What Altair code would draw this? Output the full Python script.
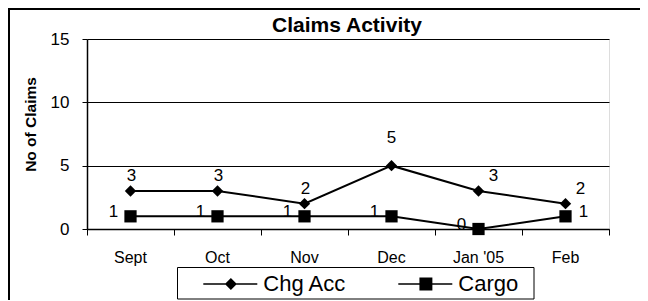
import altair as alt
import pandas as pd

# ---- data ----
months = ["Sept", "Oct", "Nov", "Dec", "Jan '05", "Feb"]
chg_acc = [3, 3, 2, 5, 3, 2]
cargo = [1, 1, 1, 1, 0, 1]
series_names = ["Chg Acc", "Cargo"]
y_ticks = [0, 5, 10, 15]
chart_title = "Claims Activity"

rows = []
for i, m in enumerate(months):
    rows.append({"month": m, "idx": i, "series": "Chg Acc", "value": chg_acc[i]})
    rows.append({"month": m, "idx": i, "series": "Cargo", "value": cargo[i]})
df = pd.DataFrame(rows)
one = pd.DataFrame({"title": [chart_title]})

FONT = "Liberation Sans"
W, H = 522, 190

x_enc = alt.X(
    "month:N",
    sort=months,
    bandPosition=0.5,
    scale=alt.Scale(type="band", domain=months, paddingInner=0, paddingOuter=0),
    axis=alt.Axis(
        title=None, bandPosition=1, tickExtra=True, labelAngle=0,
        labelFont=FONT, labelFontSize=16, labelColor="black",
        labelBaseline="alphabetic", labelPadding=27, tickSize=6,
        tickColor="black", tickWidth=1, domainColor="black", domainWidth=1.5,
        grid=False, labelOverlap=False,
    ),
)
y_enc = alt.Y(
    "value:Q",
    scale=alt.Scale(domain=[0, 15], nice=False, zero=True),
    axis=alt.Axis(
        title="No of Claims", values=y_ticks, titleFont=FONT, titleFontSize=15.5,
        titleFontWeight="bold", titleColor="black", titleAngle=270,
        titleX=-52, titleY=85, titleBaseline="alphabetic", titleAlign="center",
        labelFont=FONT, labelFontSize=17, labelColor="black", labelPadding=13,
        tickSize=5, tickColor="black", domainColor="black", domainWidth=1.5,
        gridColor="black", gridWidth=1,
    ),
)

base = alt.Chart(df)
chg = base.transform_filter(alt.datum.series == "Chg Acc")
car = base.transform_filter(alt.datum.series == "Cargo")

line_chg = chg.mark_line(color="black", strokeWidth=2).encode(x=x_enc, y=y_enc)
line_car = car.mark_line(color="black", strokeWidth=2).encode(x=x_enc, y=y_enc)
pt_chg = chg.mark_point(shape="diamond", filled=True, size=130, color="black",
                        opacity=1).encode(x=x_enc, y=y_enc)
pt_car = car.mark_point(shape="square", filled=True, size=150, color="black",
                        opacity=1).encode(x=x_enc, y=y_enc)

txt = dict(font=FONT, fontSize=17, color="black", baseline="middle", align="center")
lab_chg_a = chg.transform_filter("datum.idx < 4 && datum.value < 5").mark_text(
    dx=1, dy=-15, **txt).encode(x=x_enc, y=y_enc, text="value:Q")
lab_chg_top = chg.transform_filter("datum.value >= 5").mark_text(
    dx=0, dy=-28, **txt).encode(x=x_enc, y=y_enc, text="value:Q")
lab_chg_b = chg.transform_filter("datum.idx >= 4").mark_text(
    dx=15, dy=-15, **txt).encode(x=x_enc, y=y_enc, text="value:Q")
lab_car_a = car.transform_filter("datum.idx < 5").mark_text(
    dx=-17, dy=-4, **txt).encode(x=x_enc, y=y_enc, text="value:Q")
lab_car_b = car.transform_filter("datum.idx >= 5").mark_text(
    dx=18, dy=-4, **txt).encode(x=x_enc, y=y_enc, text="value:Q")

# legend symbols: a line (thin filled bar) with the marker on it
diamond_path = "M-1,-0.13L8,-0.13L8,0.13L-1,0.13Z M2.6,0L3.6,-1L4.6,0L3.6,1Z"
square_path = ("M-1,-0.13L8,-0.13L8,0.13L-1,0.13Z "
               "M2.52,-1.08L4.68,-1.08L4.68,1.08L2.52,1.08Z")

legend_layer = base.transform_filter("false").mark_point(
    filled=True, color="black", opacity=1
).encode(
    shape=alt.Shape(
        "series:N",
        scale=alt.Scale(domain=series_names, range=[diamond_path, square_path]),
        legend=alt.Legend(
            title=None, orient="none", legendX=90, legendY=228,
            direction="horizontal", columnPadding=31,
            labelFont=FONT, labelFontSize=22, labelColor="black",
            labelOffset=43, symbolOffset=15.3, symbolSize=144,
            symbolStrokeWidth=0, symbolFillColor="black", symbolOpacity=1,
            padding=6,
        ),
    )
)

# outer chart border (only its top and left edges are inside the picture)
deco = alt.Chart(one)
frame_top = deco.mark_rule(color="black", strokeWidth=2).encode(
    x=alt.value(-79), x2=alt.value(553), y=alt.value(-30)
)
frame_left = deco.mark_rule(color="black", strokeWidth=2).encode(
    x=alt.value(-78), y=alt.value(-31), y2=alt.value(262)
)
legend_box = deco.mark_rect(fill="white", stroke="black", strokeWidth=1).encode(
    x=alt.value(90.5), y=alt.value(228.5), x2=alt.value(447), y2=alt.value(260)
)
title_text = deco.mark_text(
    font=FONT, fontSize=21, fontWeight="bold", color="black",
    align="center", baseline="alphabetic"
).encode(x=alt.value(260), y=alt.value(-7.5), text="title:N")

chart = alt.layer(
    frame_top, frame_left, line_chg, line_car, pt_chg, pt_car,
    lab_chg_a, lab_chg_top, lab_chg_b, lab_car_a, lab_car_b,
    legend_box, legend_layer, title_text,
).properties(
    width=W, height=H,
    autosize=alt.AutoSizeParams(type="none"),
    padding={"left": 79, "top": 31, "right": 31, "bottom": 71},
).configure_view(
    stroke="#808080", strokeWidth=2
).configure(background="white")

chart.save("out.html", embed_options={"renderer": "svg", "actions": False})
